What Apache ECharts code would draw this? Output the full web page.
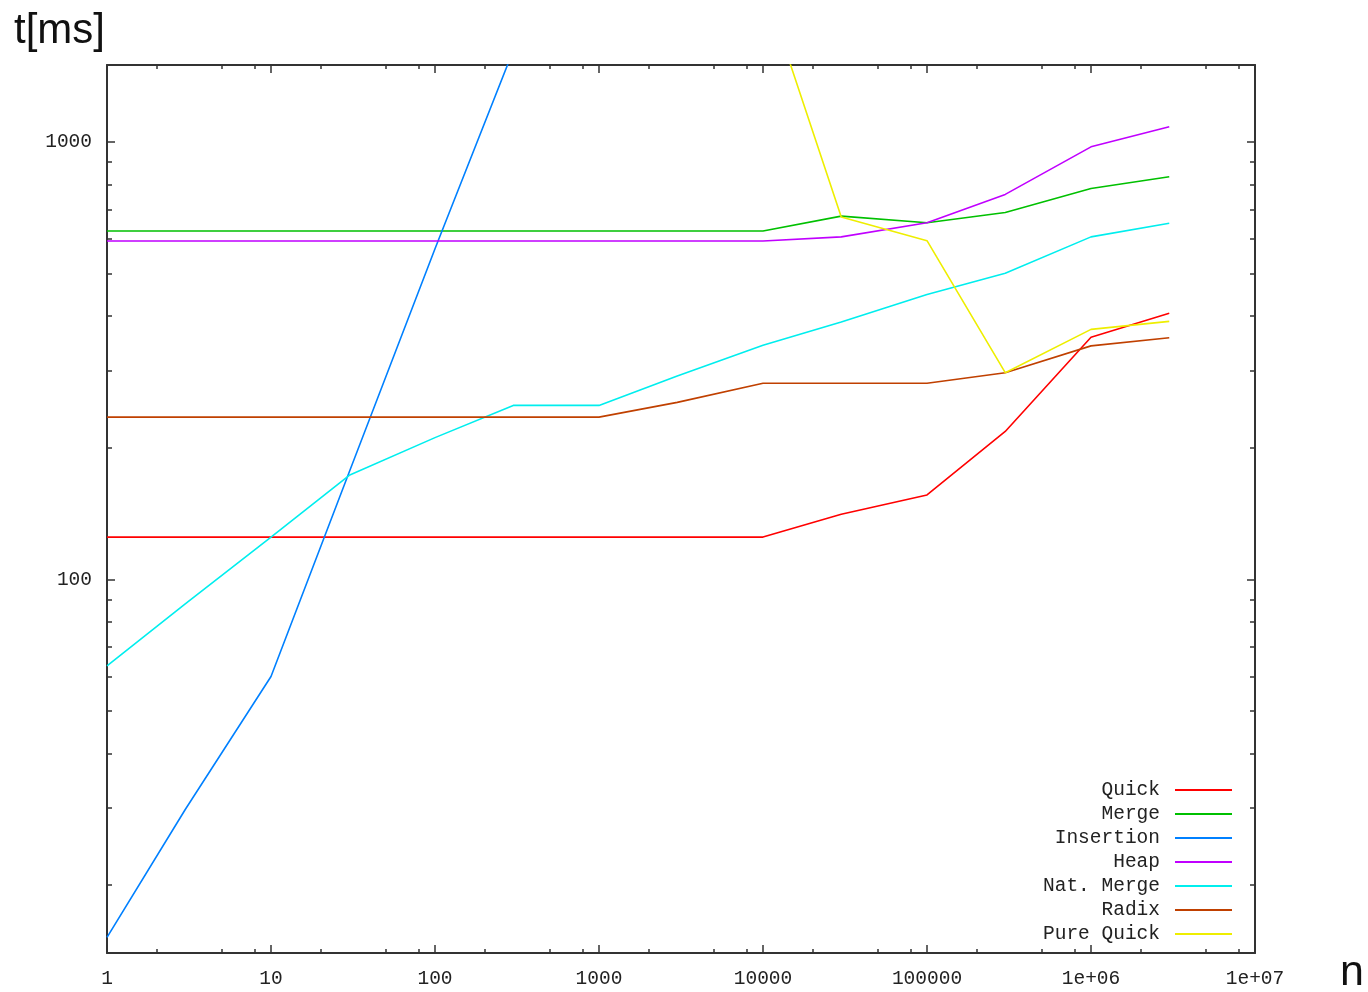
<!DOCTYPE html>
<html><head><meta charset="utf-8">
<script src="https://cdn.jsdelivr.net/npm/echarts@6/dist/echarts.min.js"></script>
<style>html,body{margin:0;padding:0;background:#fff}#c{width:1368px;height:992px}</style>
</head><body><div id="c"></div><script>
// ---- data ----
const xValues   = [1, 3, 10, 30, 100, 300, 1000, 3000, 10000, 30000, 100000, 300000, 1000000, 3000000];
const quick     = [125, 125, 125, 125, 125, 125, 125, 125, 125, 141, 156, 218, 358, 406];
const merge     = [626, 626, 626, 626, 626, 626, 626, 626, 626, 677, 654, 690, 783, 833];
const insertion = [15.2, 29.8, 60, 176, 570, 1620, null, null, null, null, null, null, null, null];
const heap      = [594, 594, 594, 594, 594, 594, 594, 594, 594, 607, 654, 759, 975, 1084];
const natMerge  = [63.5, 88, 125, 173, 211, 250, 250, 292, 343, 388, 448, 501, 607, 652];
const radix     = [235, 235, 235, 235, 235, 235, 235, 254, 281, 281, 281, 297, 342, 357];
const pureQuick = [null, null, null, null, null, null, null, null, 2320, 674, 595, 297, 373, 389];
const seriesNames = ['Quick', 'Merge', 'Insertion', 'Heap', 'Nat. Merge', 'Radix', 'Pure Quick'];
const xMajorTicks = [1, 10, 100, 1000, 10000, 100000, 1000000, 10000000];
const xTickLabels = ['1', '10', '100', '1000', '10000', '100000', '1e+06', '1e+07'];
const xMinorTicks = [2, 5, 8, 20, 50, 80, 200, 500, 800, 2000, 5000, 8000, 20000, 50000, 80000,
                     200000, 500000, 800000, 2000000, 5000000, 8000000];
const yMajorTicks = [100, 1000];
const yTickLabels = ['100', '1000'];
const yMinorTicks = [20, 30, 40, 50, 60, 70, 80, 90, 200, 300, 400, 500, 600, 700, 800, 900];

// ---- style ----
const colors = ['#ff0000', '#00c000', '#0080ff', '#c000ff', '#00eeee', '#c04000', '#eeee00'];
const monoFont = 'Liberation Mono';
const axisColor = '#333';
const seriesData = [quick, merge, insertion, heap, natMerge, radix, pureQuick];

function xAxisDef(pos, ticks, len, main, labels) {
  return {
    type: 'log', logBase: 10, min: 1, max: 10000000, position: pos, gridIndex: 0,
    axisLine: { show: main, onZero: false, lineStyle: { color: axisColor, width: 2 } },
    axisTick: { show: true, inside: true, length: len, customValues: ticks, lineStyle: { color: axisColor, width: 1.5 } },
    axisLabel: labels ? {
      show: true, customValues: xMajorTicks, margin: 16, fontFamily: monoFont, fontSize: 19.5, color: '#222',
      formatter: v => xTickLabels[Math.round(Math.log10(v))]
    } : { show: false },
    splitLine: { show: false }, minorTick: { show: false }, minorSplitLine: { show: false }
  };
}
function yAxisDef(pos, ticks, len, main, labels) {
  return {
    type: 'log', logBase: 10, min: 14, max: 1500, position: pos, gridIndex: 0,
    axisLine: { show: main, onZero: false, lineStyle: { color: axisColor, width: 2 } },
    axisTick: { show: true, inside: true, length: len, customValues: ticks, lineStyle: { color: axisColor, width: 1.5 } },
    axisLabel: labels ? {
      show: true, customValues: yMajorTicks, margin: 15, fontFamily: monoFont, fontSize: 19.5, color: '#222',
      formatter: v => yTickLabels[Math.round(Math.log10(v)) - 2]
    } : { show: false },
    splitLine: { show: false }, minorTick: { show: false }, minorSplitLine: { show: false }
  };
}

const chart = echarts.init(document.getElementById('c'), null, { renderer: 'canvas' });
chart.setOption({
  animation: false,
  backgroundColor: '#fff',
  grid: { left: 107, right: 113, top: 65, bottom: 39, containLabel: false, outerBoundsMode: 'none' },
  xAxis: [
    xAxisDef('bottom', xMajorTicks, 8, true, true),
    xAxisDef('bottom', xMinorTicks, 4, false, false),
    xAxisDef('top', xMajorTicks, 8, true, false),
    xAxisDef('top', xMinorTicks, 4, false, false)
  ],
  yAxis: [
    yAxisDef('left', yMajorTicks, 8, true, true),
    yAxisDef('left', yMinorTicks, 5, false, false),
    yAxisDef('right', yMajorTicks, 8, true, false),
    yAxisDef('right', yMinorTicks, 5, false, false)
  ],
  legend: {
    orient: 'vertical', right: 136, top: 778, align: 'right', padding: 0,
    itemGap: 0, itemWidth: 57, itemHeight: 2, icon: 'rect',
    data: seriesNames,
    textStyle: { fontFamily: monoFont, fontSize: 19.5, color: '#222', lineHeight: 24, padding: [0, 10, 0, 0] }
  },
  graphic: [
    { type: 'text', x: 14, y: 31, style: { text: 't[ms]', fontFamily: 'Liberation Sans', fontSize: 42, fill: '#111', verticalAlign: 'middle', align: 'left' } },
    { type: 'text', x: 1340, y: 973, style: { text: 'n', fontFamily: 'Liberation Sans', fontSize: 43, fill: '#111', verticalAlign: 'middle', align: 'left' } }
  ],
  series: seriesNames.map((name, i) => ({
    name: name, type: 'line', xAxisIndex: 0, yAxisIndex: 0,
    data: xValues.map((x, j) => [x, seriesData[i][j]]),
    showSymbol: false, symbol: 'none', clip: true, connectNulls: false,
    lineStyle: { color: colors[i], width: 1.6 }, itemStyle: { color: colors[i] },
    emphasis: { disabled: true }
  }))
});
</script></body></html>
